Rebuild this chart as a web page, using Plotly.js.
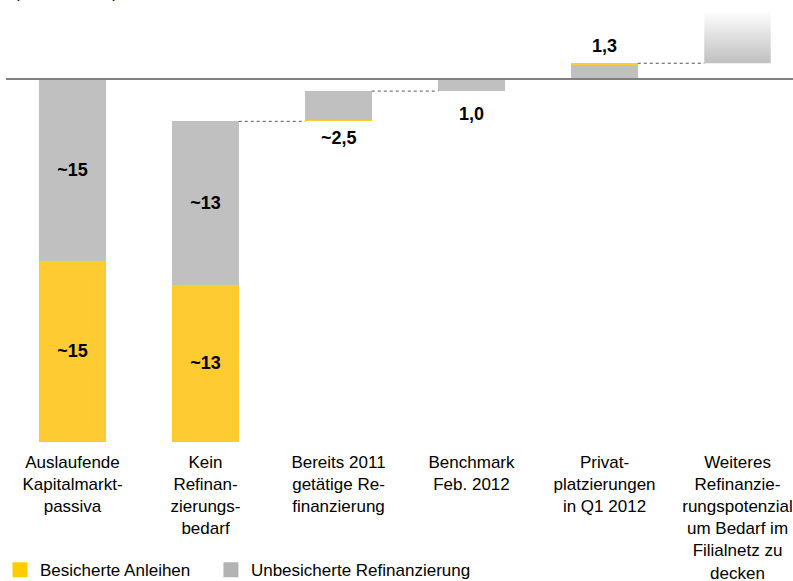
<!DOCTYPE html>
<html>
<head>
<meta charset="utf-8">
<script src="https://cdn.plot.ly/plotly-3.0.1.min.js"></script>
<style>html,body{margin:0;padding:0;background:#fff;}#chart{width:793px;height:581px;}</style>
</head>
<body>
<div id="chart"></div>
<script>
// ---- data ----
const categories = [
  "Auslaufende<br>Kapitalmarkt-<br>passiva",
  "Kein<br>Refinan-<br>zierungs-<br>bedarf",
  "Bereits 2011<br>getätige Re-<br>finanzierung",
  "Benchmark<br>Feb. 2012",
  "Privat-<br>platzierungen<br>in Q1 2012",
  "Weiteres<br>Refinanzie-<br>rungspotenzial<br>um Bedarf im<br>Filialnetz zu<br>decken"
];
const secured   = [15, 13, 0.15, 0, 0.15, 0];     // Besicherte Anleihen
const unsecured = [15, 13.5, 2.35, 1.0, 1.15, 0]; // Unbesicherte Refinanzierung
const potential = [0, 0, 0, 0, 0, 4.4];           // weiteres Potenzial (Verlauf)
const direction = [-1, 1, 1, 1, 1, 1];            // Wasserfall-Richtung
const securedOnTop = [false, false, false, false, true, false];
const securedLabels   = ["~15", "~13", "", "", "", ""];
const unsecuredLabels = ["~15", "~13", "", "", "", ""];
const outsideLabels   = ["", "", "~2,5", "1,0", "1,3", ""];
const labelBelow      = [false, false, true, true, false, false];
const legendNames = ["Besicherte Anleihen", "Unbesicherte Refinanzierung"];
const unitTitle = "(in Mrd. EUR)";

// ---- styling ----
const FONT = "Liberation Sans, Arial, Helvetica, sans-serif";
const YELLOW = "#FFCB33";
const GRAY = "#C0C0C0";
const LEG_YELLOW = "#FFCC00";
const LEG_GRAY = "#B3B3B3";
const BARW = 0.5;
const labelOffset = [0, 0, 17, 23, 17, 0];

// ---- waterfall geometry from data ----
const n = categories.length;
const xs = categories.map((_, i) => i);
let level = 0;
const lows = [], highs = [], levels = [];
for (let i = 0; i < n; i++) {
  const total = secured[i] + unsecured[i] + potential[i];
  let low, high;
  if (direction[i] < 0) { high = level; low = level - total; level = low; }
  else { low = level; high = level + total; level = high; }
  lows.push(low); highs.push(high); levels.push(level);
}
const securedBase = xs.map(i => securedOnTop[i] ? lows[i] + unsecured[i] : lows[i]);
const unsecuredBase = xs.map(i => securedOnTop[i] ? lows[i] : lows[i] + secured[i]);
const potentialBase = xs.map(i => lows[i] + secured[i] + unsecured[i]);

const traces = [];
traces.push({
  type: "bar", name: legendNames[0], x: xs, y: secured, base: securedBase, showlegend: false,
  width: BARW, marker: {color: YELLOW, line: {width: 0}},
  text: securedLabels, textposition: "inside", insidetextanchor: "middle",
  textfont: {family: FONT, size: 18, color: "#000", weight: "bold"},
  hoverinfo: "skip"
});
traces.push({
  type: "bar", name: legendNames[1], x: xs, y: unsecured, base: unsecuredBase, showlegend: false,
  width: BARW, marker: {color: GRAY, line: {width: 0}},
  text: unsecuredLabels, textposition: "inside", insidetextanchor: "middle",
  textfont: {family: FONT, size: 18, color: "#000", weight: "bold"},
  hoverinfo: "skip"
});
// gradient bar(s)
xs.forEach(i => {
  if (potential[i] > 0) {
    const b = potentialBase[i], t = b + potential[i];
    traces.push({
      type: "scatter", mode: "lines", showlegend: false, hoverinfo: "skip",
      x: [i - BARW/2, i + BARW/2, i + BARW/2, i - BARW/2, i - BARW/2],
      y: [b, b, t, t, b],
      fill: "toself", line: {width: 0, color: "rgba(0,0,0,0)"},
      fillgradient: {type: "vertical", colorscale: [[0, GRAY], [1, "#ffffff"]]}
    });
  }
});
// dotted connectors
const cx = [], cy = [];
for (let i = 1; i < n - 1; i++) {
  cx.push(i + BARW/2, i + 1 - BARW/2, null);
  cy.push(levels[i], levels[i], null);
}
traces.push({
  type: "scatter", mode: "lines", x: cx, y: cy, showlegend: false, hoverinfo: "skip",
  line: {color: "#555555", width: 1, dash: "dot"}
});
// legend entries
traces.push({type: "scatter", mode: "markers", x: [null], y: [null], name: legendNames[0],
  legend: "legend", marker: {symbol: "square", size: 15, color: LEG_YELLOW}, hoverinfo: "skip"});
traces.push({type: "scatter", mode: "markers", x: [null], y: [null], name: legendNames[1],
  legend: "legend2", marker: {symbol: "square", size: 15, color: LEG_GRAY}, hoverinfo: "skip"});

const annotations = [];
xs.forEach(i => {
  if (!outsideLabels[i]) return;
  const below = labelBelow[i];
  annotations.push({
    x: i, y: below ? lows[i] : highs[i], xref: "x", yref: "y",
    text: outsideLabels[i], showarrow: false, yanchor: "middle",
    yshift: below ? -labelOffset[i] : labelOffset[i],
    font: {family: FONT, size: 18, color: "#000", weight: "bold"}
  });
});
annotations.push({
  xref: "paper", yref: "paper", x: 0.008, y: 1, xanchor: "left", yanchor: "bottom",
  yshift: -4, text: unitTitle, showarrow: false,
  font: {family: FONT, size: 17, color: "#000"}
});

const pxPerUnit = 12.1, zeroPx = 79, plotH = 450;
const legendFont = {family: FONT, size: 17, color: "#000"};
const layout = {
  width: 793, height: 581,
  margin: {l: 6, r: 0, t: 0, b: 131, pad: 0},
  paper_bgcolor: "#fff", plot_bgcolor: "#fff",
  barmode: "overlay", bargap: 0,
  font: {family: FONT, size: 17, color: "#000"},
  showlegend: true,
  legend: {orientation: "h", xref: "container", yref: "container", itemsizing: "trace",
           x: 0, xanchor: "left", y: 0.0495, yanchor: "top", font: legendFont},
  legend2: {orientation: "h", xref: "container", yref: "container", itemsizing: "trace",
           x: 0.266, xanchor: "left", y: 0.0495, yanchor: "top", font: legendFont},
  xaxis: {range: [-0.5, -0.5 + 787/133], tickvals: xs, ticktext: categories,
          showgrid: false, zeroline: false, showline: false, ticks: "", automargin: false,
          tickfont: {family: FONT, size: 17, color: "#000"}, fixedrange: true},
  yaxis: {range: [-(plotH - zeroPx)/pxPerUnit, zeroPx/pxPerUnit], automargin: false,
          showgrid: false, showticklabels: false, ticks: "", showline: false,
          zeroline: true, zerolinecolor: "#808080", zerolinewidth: 2,
          layer: "above traces", zerolinelayer: "above traces", fixedrange: true},
  annotations: annotations
};
Plotly.newPlot("chart", traces, layout, {displayModeBar: false, staticPlot: true});
</script>
</body>
</html>
